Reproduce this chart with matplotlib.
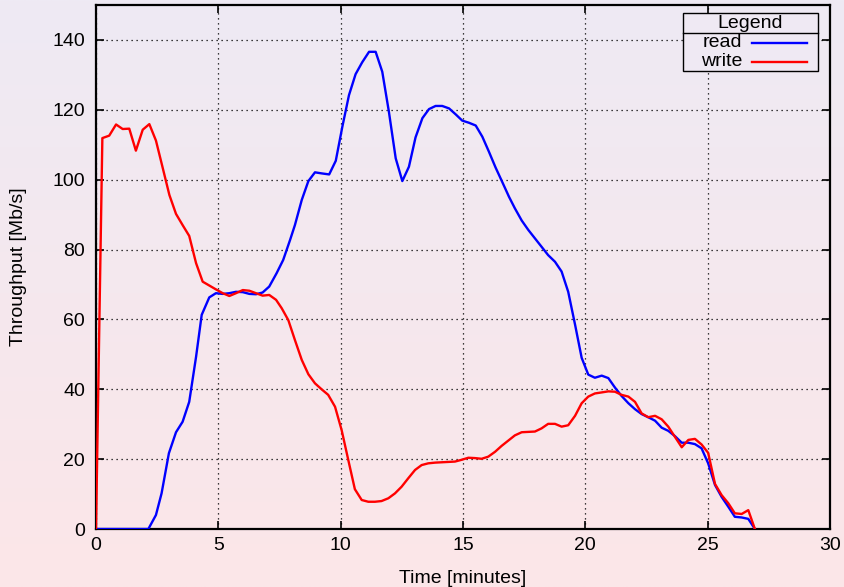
import numpy as np
import matplotlib
matplotlib.use('Agg')
import matplotlib.pyplot as plt
from matplotlib.lines import Line2D
from matplotlib.patches import Rectangle

plt.rcParams['font.family'] = ['Liberation Sans', 'DejaVu Sans']

# 读数据
t_read = [0, 2.14, 2.45, 2.68, 2.98, 3.27, 3.54, 3.81, 4.09, 4.32, 4.63, 4.9, 5.18, 5.45,
          5.72, 6.0, 6.27, 6.54, 6.81, 7.08, 7.38, 7.65, 7.93, 8.13, 8.41, 8.68, 8.95,
          9.22, 9.53, 9.8, 10.07, 10.34, 10.61, 10.88, 11.16, 11.43, 11.7, 11.97, 12.25,
          12.52, 12.79, 13.06, 13.34, 13.61, 13.88, 14.15, 14.43, 14.7, 14.97, 15.24,
          15.52, 15.79, 16.06, 16.33, 16.6, 16.88, 17.12, 17.4, 17.67, 17.94, 18.21,
          18.48, 18.76, 19.03, 19.3, 19.58, 19.85, 20.12, 20.39, 20.67, 20.94, 21.21,
          21.48, 21.76, 22.03, 22.3, 22.57, 22.85, 23.12, 23.39, 23.66, 23.94, 24.21,
          24.48, 24.75, 25.02, 25.3, 25.57, 25.84, 26.11, 26.39, 26.66, 26.93]
read = [0, 0, 4.0, 10.2, 21.7, 27.7, 30.7, 36.4, 49.3, 61.3, 66.3, 67.5, 67.3, 67.5,
        67.9, 67.8, 67.3, 67.2, 67.7, 69.4, 73.2, 77.0, 82.7, 87.0, 94.2, 99.6, 102.1,
        101.8, 101.5, 105.4, 115.2, 124.2, 130.2, 133.6, 136.6, 136.6, 130.9, 119.5,
        106.1, 99.6, 103.7, 112.1, 117.6, 120.2, 121.1, 121.1, 120.4, 118.7, 116.9,
        116.3, 115.5, 112.3, 108.0, 103.5, 99.4, 95.1, 91.8, 88.3, 85.6, 83.2, 80.8,
        78.4, 76.5, 73.7, 67.9, 58.5, 49.0, 44.2, 43.3, 43.9, 43.2, 40.5, 38.1, 36.0,
        34.3, 32.9, 32.0, 31.0, 29.0, 28.1, 26.6, 24.7, 24.7, 24.3, 23.1, 18.8, 12.6,
        9.2, 6.4, 3.5, 3.3, 2.9, 0]

t_write = [0, 0.26, 0.54, 0.82, 1.09, 1.36, 1.63, 1.91, 2.18, 2.45, 2.68, 3.0, 3.27,
           3.54, 3.81, 4.09, 4.36, 4.63, 4.9, 5.18, 5.45, 5.72, 6.0, 6.27, 6.54, 6.81,
           7.08, 7.36, 7.59, 7.86, 8.13, 8.41, 8.68, 8.95, 9.22, 9.49, 9.77, 10.04,
           10.31, 10.58, 10.86, 11.13, 11.4, 11.67, 11.95, 12.22, 12.49, 12.76, 13.04,
           13.31, 13.58, 13.86, 14.13, 14.4, 14.67, 14.94, 15.22, 15.49, 15.76, 16.03,
           16.31, 16.58, 16.85, 17.12, 17.4, 17.67, 17.94, 18.21, 18.48, 18.76, 19.03,
           19.3, 19.58, 19.85, 20.12, 20.39, 20.67, 20.94, 21.21, 21.48, 21.76, 22.03,
           22.3, 22.57, 22.85, 23.12, 23.39, 23.66, 23.94, 24.21, 24.48, 24.75, 25.02,
           25.3, 25.57, 25.84, 26.11, 26.39, 26.66, 26.93]
write = [0, 111.9, 112.6, 115.8, 114.5, 114.6, 108.3, 114.3, 115.9, 111.2, 104.7, 95.6,
         90.2, 87.0, 83.9, 76.1, 70.8, 69.7, 68.6, 67.5, 66.7, 67.5, 68.4, 68.2, 67.5,
         66.8, 67.0, 65.6, 63.2, 59.8, 54.1, 48.4, 44.3, 41.7, 40.0, 38.4, 35.0, 28.3,
         19.8, 11.4, 8.3, 7.8, 7.8, 8.0, 8.8, 10.2, 12.1, 14.5, 16.9, 18.3, 18.8, 19.0,
         19.1, 19.2, 19.3, 19.8, 20.4, 20.3, 20.1, 20.7, 22.1, 23.8, 25.3, 26.8, 27.7,
         27.8, 27.9, 28.8, 30.1, 30.1, 29.3, 29.7, 32.4, 36.0, 37.9, 38.8, 39.1, 39.4,
         39.3, 38.4, 37.9, 36.4, 33.1, 32.0, 32.4, 31.4, 29.3, 26.4, 23.4, 25.5, 25.8,
         24.2, 21.8, 12.9, 9.7, 7.4, 4.5, 4.3, 5.4, 0]

W, H = 844, 587
fig = plt.figure(figsize=(W/100, H/100), dpi=100)

# 渐变背景
bg = fig.add_axes([0, 0, 1, 1], zorder=-10)
top = np.array([238, 234, 244]) / 255
bottom = np.array([252, 230, 232]) / 255
frac = np.linspace(0, 1, 256)[:, None, None]
grad = top * (1 - frac) + bottom * frac
grad = np.repeat(grad, 2, axis=1)
bg.imshow(grad, aspect='auto', extent=[0, 1, 0, 1])
bg.axis('off')

ax = fig.add_axes([96/W, 58/H, 734/W, 524/H])
ax.set_facecolor('none')

ax.plot(t_read, read, color='#0000ff', lw=1.7, zorder=3)
ax.plot(t_write, write, color='#ff0000', lw=1.7, zorder=3)

ax.set_xlim(0, 30)
ax.set_ylim(0, 150)
ax.set_xticks([0, 5, 10, 15, 20, 25, 30])
ax.set_yticks([0, 20, 40, 60, 80, 100, 120, 140])
ax.grid(True, color='black', linestyle=(0, (1, 3)), lw=0.9)
ax.tick_params(direction='in', length=6, width=1.2, top=True, right=True, labelsize=14)
ax.tick_params(axis='x', pad=6)
ax.tick_params(axis='y', pad=8)
for s in ax.spines.values():
    s.set_linewidth(1.6)
ax.set_xlabel('Time [minutes]', fontsize=14, labelpad=11)
ax.set_ylabel('Throughput [Mb/s]', fontsize=14, labelpad=18)

# 图例 (gnuplot 样式的框)
def fx(x):
    return x / W
def fy(y):
    return 1 - y / H

fig.add_artist(Rectangle((fx(683), fy(71)), fx(818) - fx(683), fy(13) - fy(71),
                         facecolor='#efe9f3', edgecolor='black', lw=1.0, zorder=5))
fig.add_artist(Line2D([fx(683), fx(818)], [fy(33), fy(33)], color='black', lw=1.0, zorder=6))
fig.text(fx(750), fy(23), 'Legend', ha='center', va='center', fontsize=14, zorder=6)
for name, col, yy in [('read', '#0000ff', 42.5), ('write', '#ff0000', 61.5)]:
    fig.text(fx(742), fy(yy), name, ha='right', va='center', fontsize=14, zorder=6)
    fig.add_artist(Line2D([fx(752), fx(807)], [fy(yy), fy(yy)], color=col, lw=1.7, zorder=6))

fig.savefig('out.png', dpi=100)
